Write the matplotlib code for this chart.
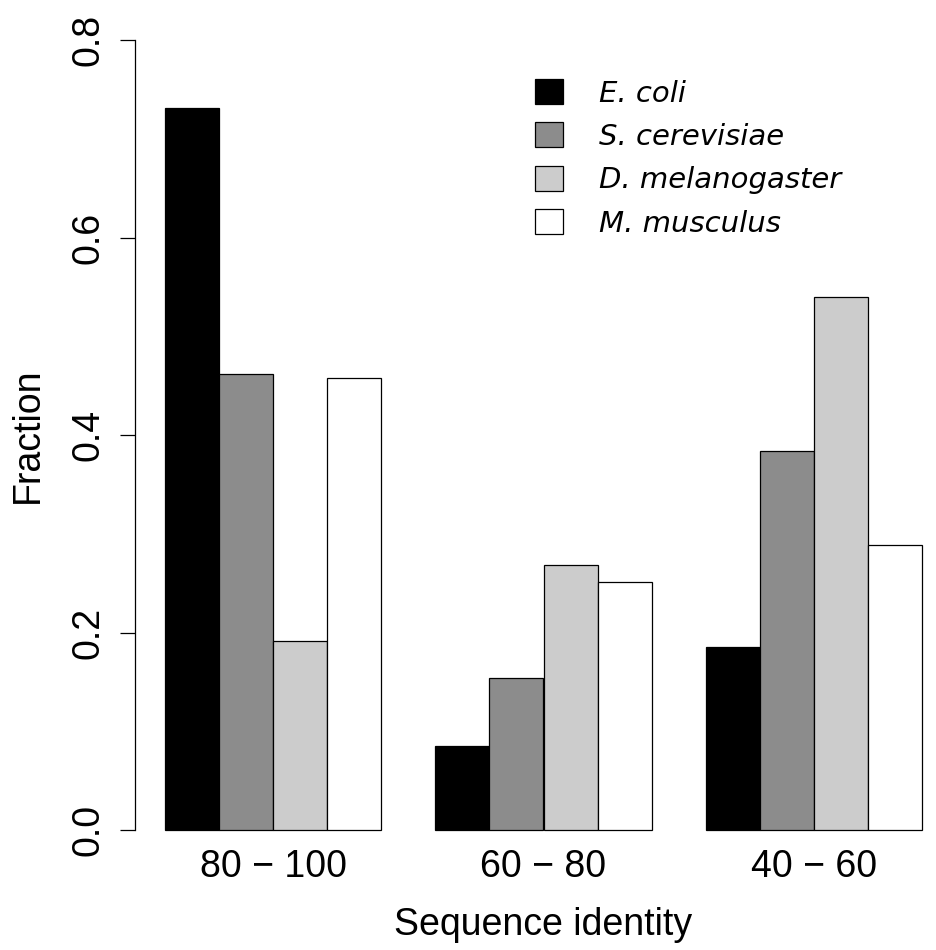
import numpy as np
import matplotlib
matplotlib.use("Agg")
import matplotlib.pyplot as plt
from matplotlib.patches import Patch

plt.rcParams['font.family'] = ['Liberation Sans', 'DejaVu Sans']

# data
groups = ['80 \u2212 100', '60 \u2212 80', '40 \u2212 60']
species = ['E. coli', 'S. cerevisiae', 'D. melanogaster', 'M. musculus']
colors = ['#000000', '#8c8c8c', '#cccccc', '#ffffff']
e_coli = [0.731, 0.085, 0.185]
s_cerevisiae = [0.462, 0.154, 0.384]
d_melanogaster = [0.191, 0.268, 0.540]
m_musculus = [0.458, 0.251, 0.289]
yticks = [0.0, 0.2, 0.4, 0.6, 0.8]

series = [e_coli, s_cerevisiae, d_melanogaster, m_musculus]

W, H = 936, 950
fig = plt.figure(figsize=(W / 100, H / 100), dpi=100)
# plot region in pixels (R style, extends a bit past the cropped right edge)
left, right, top, bottom = 135, 952, 8.4, 861.6
ax = fig.add_axes([left / W, 1 - bottom / H, (right - left) / W, (bottom - top) / H])

# R barplot beside=TRUE layout: space=c(0,1)
n_ser = len(series)
for g in range(len(groups)):
    for s in range(n_ser):
        x0 = 1 + g * (n_ser + 1) + s
        ax.bar(x0, series[s][g], width=1, align='edge', color=colors[s],
               edgecolor='black', linewidth=0.9)

ax.set_xlim(0.44, 15.56)
ax.set_ylim(-0.032, 0.832)

for sp in ['top', 'right', 'bottom']:
    ax.spines[sp].set_visible(False)
ax.spines['left'].set_bounds(0, 0.8)
ax.spines['left'].set_linewidth(0.9)

ax.set_yticks(yticks)
ax.set_yticklabels(['%.1f' % v for v in yticks], rotation=90, va='center')
ax.tick_params(axis='y', length=10.8, width=0.9, pad=10, labelsize=27)

centers = [3 + g * (n_ser + 1) for g in range(len(groups))]
ax.set_xticks(centers)
ax.set_xticklabels(groups)
ax.tick_params(axis='x', length=0, pad=-9, labelsize=27)

ax.set_ylabel('Fraction', fontsize=27)
ax.set_xlabel('Sequence identity', fontsize=27)
ax.yaxis.set_label_coords((28 - left) / (right - left), 0.5)
ax.yaxis.label.set_va('center')
ax.xaxis.set_label_coords(0.5, (bottom - 925) / (bottom - top))
ax.xaxis.label.set_va('center')

handles = [Patch(facecolor=c, edgecolor='black', linewidth=0.9) for c in colors]
leg = ax.legend(handles, species, loc='upper left',
                bbox_to_anchor=(535 / W, 1 - 79 / H), bbox_transform=fig.transFigure,
                frameon=False,
                prop={'family': 'DejaVu Sans', 'style': 'oblique', 'size': 21},
                handlelength=0.95, handleheight=0.95, handletextpad=1.25,
                labelspacing=0.505, borderpad=0, borderaxespad=0)

fig.savefig('out.png', dpi=100)
